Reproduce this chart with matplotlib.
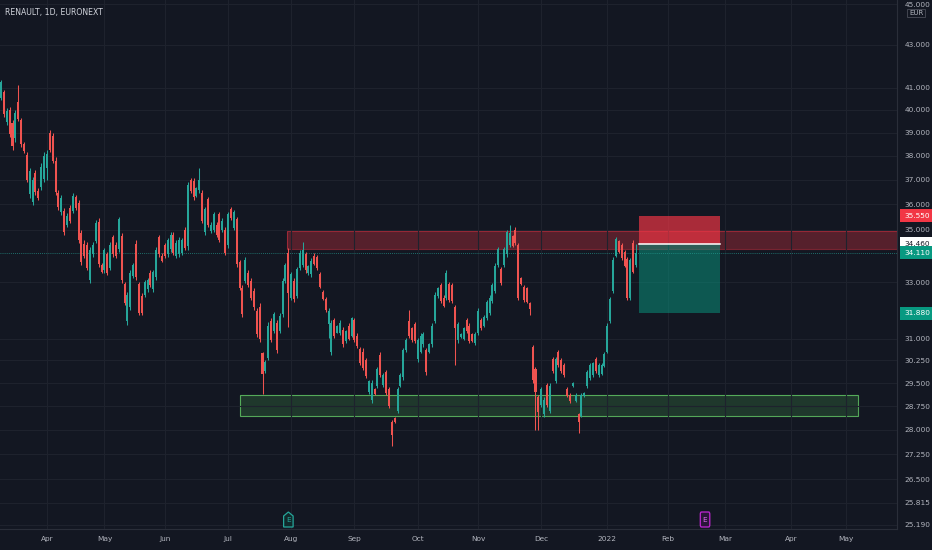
import numpy as np
import pandas as pd
import matplotlib
matplotlib.use("Agg")
import matplotlib.pyplot as plt
import matplotlib.ticker as mticker
import matplotlib.transforms as mtransforms
from matplotlib import font_manager
from matplotlib.patches import Rectangle, Polygon, FancyBboxPatch

# ---------------- data ----------------
title = "RENAULT, 1D, EURONEXT"
first_date = "2021-03-10"
holidays = ["2021-04-02", "2021-04-05", "2022-04-15", "2022-04-18"]

open_ = [40.55, 40.80, 39.45, 40.00, 39.40, 38.75, 40.35, 39.55, 38.50, 38.05,
         36.40, 36.10, 37.30, 36.55, 36.70, 37.05, 37.50, 39.00, 38.85, 37.80,
         36.45, 35.70, 35.75, 35.20, 35.85, 35.75, 36.30, 36.05, 34.85, 34.45,
         34.40, 33.10, 34.05, 34.55, 35.30, 33.65, 33.45, 34.05, 33.55, 34.70,
         34.40, 34.25, 34.75, 32.95, 31.60, 32.10, 33.25, 34.45, 32.95, 32.50,
         32.55, 32.75, 33.35, 32.75, 33.20, 34.70, 34.00, 34.40, 34.05, 34.25,
         34.80, 34.00, 34.05, 34.10, 35.00, 34.35, 37.00, 36.95, 36.35, 36.60,
         36.45, 34.90, 36.20, 34.95, 35.00, 35.20, 35.60, 35.00, 35.00, 34.40,
         35.80, 35.05, 35.40, 33.75, 32.80, 33.05, 33.35, 33.05, 32.70, 31.95,
         32.10, 30.50, 29.90, 30.35, 31.60, 31.25, 31.55, 31.25, 31.85, 33.05,
         34.10, 32.45, 33.05, 32.50, 33.55, 33.65, 34.05, 33.35, 33.30, 34.00,
         33.95, 33.30, 32.65, 32.40, 31.50, 30.55, 31.65, 31.20, 31.20, 31.30,
         30.90, 31.45, 31.10, 31.65, 31.10, 30.65, 30.55, 30.25, 29.20, 28.95,
         29.30, 29.40, 30.45, 29.42, 29.85, 29.30, 28.25, 28.36, 28.60, 29.40,
         29.70, 30.60, 31.60, 31.35, 31.50, 30.30, 30.55, 30.80, 30.60, 30.55,
         30.80, 31.60, 32.50, 32.90, 32.45, 32.45, 32.95, 32.90, 32.10, 30.95,
         31.05, 31.00, 31.65, 31.45, 31.15, 30.85, 31.20, 31.65, 31.45, 31.70,
         31.90, 32.32, 32.70, 33.65, 33.50, 33.65, 34.05, 34.40, 34.75, 35.00,
         34.40, 33.15, 32.85, 32.80, 32.25, 30.70, 29.95, 29.05, 28.78, 28.50,
         29.42, 28.60, 30.30, 29.55, 30.55, 30.25, 30.10, 29.30, 29.12, 29.40,
         28.92, 28.50, 28.45, 29.06, 29.40, 29.65, 29.75, 30.30, 29.75, 29.80,
         30.08, 30.55, 31.60, 32.70, 34.00, 34.55, 34.40, 34.15, 33.88, 32.45,
         34.50, 33.65]
high = [41.35, 40.90, 40.08, 40.13, 39.55, 39.99, 41.12, 39.64, 38.59, 38.16,
        37.49, 37.12, 37.41, 36.66, 37.70, 38.16, 38.25, 39.11, 38.98, 37.95,
        36.58, 36.38, 35.85, 35.66, 35.98, 36.46, 36.38, 36.18, 34.99, 34.60,
        34.52, 34.33, 34.52, 35.38, 35.46, 33.72, 34.29, 34.14, 34.52, 34.79,
        34.52, 35.50, 34.87, 33.01, 32.65, 33.46, 33.72, 34.60, 33.01, 32.61,
        33.09, 33.16, 33.46, 33.46, 34.33, 34.79, 34.10, 34.48, 34.68, 34.91,
        34.91, 34.60, 34.71, 34.68, 35.10, 36.91, 37.07, 37.07, 36.70, 37.49,
        36.58, 35.90, 36.30, 35.30, 35.70, 35.30, 35.70, 35.46, 35.10, 35.70,
        35.90, 35.78, 35.50, 33.84, 32.90, 33.95, 33.46, 33.16, 32.79, 32.07,
        32.25, 30.54, 30.27, 31.58, 31.72, 31.93, 31.65, 31.89, 33.16, 33.72,
        34.29, 33.38, 33.16, 33.57, 34.22, 34.52, 34.14, 33.65, 33.91, 34.10,
        34.03, 33.38, 32.72, 32.47, 32.07, 31.65, 31.72, 31.47, 31.65, 31.40,
        31.30, 31.54, 31.75, 31.72, 31.19, 30.71, 30.67, 30.33, 29.60, 29.60,
        29.34, 30.03, 30.54, 29.83, 29.93, 29.37, 28.31, 28.40, 29.37, 29.83,
        30.67, 31.02, 32.00, 31.40, 31.58, 31.02, 31.19, 31.23, 30.67, 30.85,
        31.54, 32.65, 32.83, 32.98, 32.54, 33.46, 33.01, 32.98, 32.18, 31.58,
        31.19, 31.40, 31.72, 31.54, 31.19, 31.23, 32.07, 31.72, 31.82, 32.36,
        32.54, 32.98, 33.72, 34.33, 33.57, 34.33, 34.99, 35.18, 34.79, 35.10,
        34.48, 33.20, 32.90, 32.83, 32.29, 30.78, 30.03, 29.11, 29.37, 29.04,
        29.50, 29.50, 30.37, 30.37, 30.60, 30.33, 30.16, 29.37, 29.17, 29.53,
        29.17, 28.53, 29.17, 29.20, 29.93, 30.16, 30.20, 30.37, 30.16, 30.16,
        30.54, 31.54, 32.47, 33.95, 34.71, 34.60, 34.48, 34.22, 33.95, 33.91,
        34.60, 34.45]
low = [40.44, 39.68, 39.33, 38.81, 38.25, 38.59, 39.50, 38.38, 38.12, 36.91,
       36.26, 35.98, 36.38, 36.18, 36.58, 36.91, 36.99, 38.16, 37.70, 36.38,
       35.78, 35.58, 34.79, 35.10, 35.26, 35.66, 35.78, 34.48, 33.65, 33.91,
       33.46, 32.98, 33.95, 34.48, 33.57, 33.35, 33.35, 33.27, 33.46, 33.95,
       33.91, 34.14, 32.98, 32.18, 31.47, 32.00, 33.16, 33.09, 31.82, 31.82,
       32.47, 32.65, 32.83, 32.65, 33.09, 33.95, 33.76, 33.91, 33.95, 34.14,
       34.03, 33.91, 33.95, 34.03, 34.22, 34.22, 36.46, 36.18, 36.30, 36.46,
       35.26, 34.79, 35.10, 34.87, 34.91, 34.71, 34.52, 34.91, 34.03, 34.29,
       35.38, 34.99, 33.57, 32.72, 31.75, 32.98, 32.83, 32.36, 32.00, 31.05,
       30.88, 29.14, 29.83, 30.27, 30.88, 31.19, 30.50, 31.19, 31.75, 32.98,
       31.40, 32.36, 32.29, 32.43, 33.46, 33.57, 33.35, 33.27, 33.20, 33.65,
       33.46, 32.79, 32.36, 31.93, 31.02, 30.44, 31.02, 31.19, 31.12, 30.71,
       30.85, 30.95, 31.05, 30.88, 30.67, 30.10, 29.93, 29.66, 29.14, 28.85,
       29.11, 29.34, 29.70, 29.37, 29.11, 28.69, 27.50, 28.21, 28.53, 29.37,
       29.60, 30.54, 31.02, 30.88, 30.85, 30.20, 30.50, 30.71, 29.76, 30.50,
       30.71, 31.54, 32.43, 32.25, 32.11, 32.36, 32.29, 32.25, 30.10, 30.85,
       31.02, 30.95, 31.19, 30.85, 30.88, 30.78, 31.12, 31.30, 31.40, 31.65,
       31.82, 32.25, 32.61, 33.57, 32.90, 33.57, 33.95, 34.33, 34.33, 34.41,
       32.36, 32.90, 32.29, 32.25, 31.82, 29.50, 27.99, 27.99, 28.72, 28.40,
       28.72, 28.53, 29.83, 29.50, 30.03, 29.83, 29.70, 29.04, 28.85, 29.37,
       28.88, 27.90, 28.40, 29.04, 29.34, 29.60, 29.70, 29.83, 29.70, 29.76,
       30.03, 30.50, 31.54, 32.61, 33.95, 34.10, 33.84, 33.57, 32.36, 32.36,
       33.35, 33.57]
close = [41.25, 39.80, 39.95, 38.95, 38.40, 39.85, 39.60, 38.50, 38.20, 37.00,
         37.35, 37.00, 36.50, 36.25, 37.55, 38.00, 38.10, 38.25, 37.80, 36.50,
         35.90, 36.25, 34.90, 35.55, 35.35, 36.35, 35.85, 34.60, 33.75, 34.00,
         33.55, 34.20, 34.40, 35.25, 33.70, 33.40, 34.20, 33.35, 34.40, 34.05,
         34.00, 35.40, 33.10, 32.25, 32.55, 33.35, 33.65, 33.20, 31.90, 31.90,
         33.00, 33.10, 32.90, 33.40, 34.20, 34.05, 33.80, 34.00, 34.60, 34.80,
         34.10, 34.50, 34.60, 34.60, 34.30, 36.80, 36.55, 36.30, 36.65, 37.00,
         35.35, 35.80, 35.20, 35.20, 35.60, 34.80, 34.60, 35.35, 34.10, 35.60,
         35.45, 35.70, 33.70, 32.80, 31.85, 33.85, 32.90, 32.45, 32.10, 31.15,
         31.00, 29.80, 30.20, 31.45, 30.95, 31.85, 30.60, 31.80, 33.05, 33.65,
         32.60, 33.30, 32.40, 33.50, 34.10, 34.20, 33.45, 33.60, 33.80, 33.70,
         33.55, 32.85, 32.40, 32.00, 31.95, 31.55, 31.10, 31.45, 31.55, 30.80,
         31.25, 31.00, 31.70, 30.95, 30.75, 30.15, 30.00, 29.72, 29.55, 29.50,
         29.15, 29.95, 29.78, 29.78, 29.18, 28.75, 27.85, 28.24, 29.30, 29.78,
         30.60, 30.95, 31.10, 30.95, 30.92, 30.95, 31.10, 31.15, 29.85, 30.80,
         31.45, 32.55, 32.78, 32.32, 32.15, 33.35, 32.35, 32.32, 31.35, 31.50,
         31.17, 31.35, 31.25, 30.92, 30.92, 31.17, 31.95, 31.35, 31.75, 32.30,
         32.45, 32.90, 33.62, 34.25, 32.98, 34.25, 34.90, 34.85, 34.38, 34.48,
         32.45, 32.95, 32.35, 32.30, 32.05, 29.60, 29.20, 28.55, 29.30, 28.95,
         28.80, 29.40, 29.90, 30.30, 30.10, 29.90, 29.75, 29.08, 28.90, 29.50,
         29.12, 28.25, 29.10, 29.18, 29.88, 30.10, 30.15, 29.90, 30.10, 30.10,
         30.48, 31.45, 32.40, 33.85, 34.62, 34.15, 33.90, 33.62, 32.45, 33.85,
         33.40, 34.11]

price_ticks = [45.0, 43.0, 41.0, 40.0, 39.0, 38.0, 37.0, 36.0, 35.0, 33.0, 31.0,
               30.25, 29.5, 28.75, 28.0, 27.25, 26.5, 25.815, 25.19]
resistance_zone = (34.25, 34.95)
support_zone = (28.45, 29.10)
entry_price = 34.46
stop_price = 35.55
target_price = 31.88
last_price = 34.11
earnings_dates = ["2021-07-30", "2022-02-18"]

# ---------------- fonts ----------------
avail = {f.name for f in font_manager.fontManager.ttflist}
if "Liberation Sans Narrow" in avail:
    plt.rcParams["font.family"] = ["Liberation Sans Narrow", "DejaVu Sans"]
    FS = 6.2
    FT = 6.6
else:
    plt.rcParams["font.family"] = ["DejaVu Sans"]
    FS = 5.3
    FT = 5.6

BG = "#131722"
TXT = "#b2b5be"
GRID = "#1e222d"
UP = "#26a69a"
DOWN = "#ef5350"

# ---------------- dates / index ----------------
days = pd.bdate_range(first_date, periods=360)
days = days[~days.isin(pd.to_datetime(holidays))]
n = len(close)
o = np.array(open_); h = np.array(high); l = np.array(low); c = np.array(close)
idx = np.arange(n)

def date_index(d):
    return int(np.searchsorted(days, pd.Timestamp(d)))

month_pos, month_lab = [], []
prev = None
for i, d in enumerate(days):
    key = (d.year, d.month)
    if key != prev and i > 0:
        if pd.Timestamp("2021-04-01") <= d <= pd.Timestamp("2022-05-31"):
            month_pos.append(i)
            month_lab.append("2022" if d.month == 1 else d.strftime("%b"))
    prev = key

# ---------------- figure ----------------
W, H = 932, 550
fig = plt.figure(figsize=(W / 100, H / 100), dpi=100, facecolor=BG)
ax_w, ax_h = 897, 529
ax = fig.add_axes([0, (H - ax_h) / H, ax_w / W, ax_h / H])
ax.set_facecolor(BG)
ax.set_yscale("log")
ax.set_ylim(25.07, 45.21)
xmin, xmax = -0.35, 311.8
ax.set_xlim(xmin, xmax)

ax.set_yticks(price_ticks)
ax.yaxis.set_minor_locator(mticker.NullLocator())
ax.yaxis.set_major_formatter(mticker.FuncFormatter(lambda v, p: f"{v:.3f}"))
ax.yaxis.tick_right()
ax.set_xticks(month_pos)
ax.set_xticklabels(month_lab)
ax.grid(True, color=GRID, lw=0.8, zorder=0)
ax.tick_params(axis="y", length=0, pad=5.5, labelsize=FS, labelcolor=TXT)
ax.tick_params(axis="x", length=0, pad=5, labelsize=FS, labelcolor=TXT)
for s in ["top", "left"]:
    ax.spines[s].set_visible(False)
for s in ["right", "bottom"]:
    ax.spines[s].set_color("#2a2e39")
    ax.spines[s].set_linewidth(0.8)

# zones
ax.add_patch(Rectangle((99.5, resistance_zone[0]), xmax - 99.5,
                       resistance_zone[1] - resistance_zone[0],
                       facecolor="#f23645", alpha=0.30, lw=0, zorder=1))
ax.add_patch(Rectangle((99.5, resistance_zone[0]), xmax - 99.5,
                       resistance_zone[1] - resistance_zone[0],
                       facecolor="none", edgecolor="#f23645", alpha=0.45, lw=0.8, zorder=1))
ax.add_patch(Rectangle((83.2, support_zone[0]), 298.2 - 83.2,
                       support_zone[1] - support_zone[0],
                       facecolor="#4caf50", alpha=0.22, lw=0, zorder=1))
ax.add_patch(Rectangle((83.2, support_zone[0]), 298.2 - 83.2,
                       support_zone[1] - support_zone[0],
                       facecolor="none", edgecolor="#5cb860", alpha=0.9, lw=0.8, zorder=1))

# position tool
px0, px1 = 221.9, 250.2
ax.add_patch(Rectangle((px0, entry_price), px1 - px0, stop_price - entry_price,
                       facecolor="#f23645", alpha=0.68, lw=0, zorder=2))
ax.add_patch(Rectangle((px0, target_price), px1 - px0, entry_price - target_price,
                       facecolor="#089981", alpha=0.5, lw=0, zorder=2))
ax.plot([px0, px1], [entry_price, entry_price], color="white", lw=1.1, zorder=3)

# last price line
ax.axhline(last_price, color=UP, lw=0.6, ls=(0, (1, 1.5)), alpha=0.8, zorder=2)

# candles
up = c >= o
cols = np.where(up, UP, DOWN)
ax.vlines(idx, l, h, colors=cols, lw=0.75, zorder=4)
body_lo = np.minimum(o, c)
body_h = np.maximum(np.abs(c - o), 0.03)
ax.bar(idx, body_h, bottom=body_lo, width=0.7, color=cols, lw=0, zorder=5)

# title
ax.text(5 / ax_w, 1 - 12 / ax_h, title, transform=ax.transAxes, ha="left",
        va="center", fontsize=FT, color="#d1d4dc")

# price labels on the axis
ytr = ax.get_yaxis_transform()
def price_label(v, fc, tc):
    ax.text(1 + 7 / ax_w, v, f"{v:.3f}", transform=ytr, ha="left", va="center",
            fontsize=FS, color=tc, zorder=10, clip_on=False,
            bbox=dict(boxstyle="square,pad=0.5", facecolor=fc, edgecolor="none"))
price_label(stop_price, "#f23645", "white")
price_label(entry_price, "white", "#131722")
price_label(last_price, "#089981", "white")
price_label(target_price, "#089981", "white")

# EUR box
fig.text(916 / W, 1 - 13 / H, "EUR", ha="center", va="center", fontsize=5.0,
         color=TXT, bbox=dict(boxstyle="square,pad=0.2", facecolor=BG,
                              edgecolor="#434651", lw=0.7))

# earnings markers
btr = mtransforms.blended_transform_factory(ax.transData, ax.transAxes)
e1 = date_index(earnings_dates[0])
w = 1.65
yb, yt, yk = 2 / ax_h, 17 / ax_h, 13 / ax_h
ax.add_patch(Polygon([(e1 - w, yb), (e1 - w, yk), (e1, yt), (e1 + w, yk), (e1 + w, yb)],
                     closed=True, transform=btr, facecolor="#10292b",
                     edgecolor="#26a69a", lw=0.9, zorder=6, clip_on=False))
ax.text(e1, 8.5 / ax_h, "E", transform=btr, ha="center", va="center", fontsize=5.2,
        color="#26a69a", zorder=7)
e2 = date_index(earnings_dates[1])
ax.add_patch(FancyBboxPatch((e2 - w, yb), 2 * w, yt - yb,
                            boxstyle="round,pad=0,rounding_size=0.4",
                            transform=btr, facecolor="#2a1638",
                            edgecolor="#c026d3", lw=0.9, zorder=6,
                            mutation_aspect=0.01))
ax.text(e2, 9.5 / ax_h, "E", transform=btr, ha="center", va="center", fontsize=5.2,
        color="#e06ef0", zorder=7)

fig.savefig("out.png", dpi=100, facecolor=BG)
